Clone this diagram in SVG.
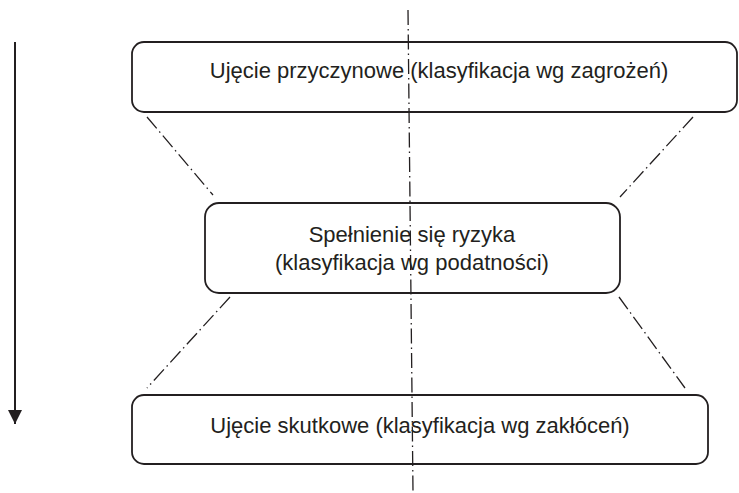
<svg xmlns="http://www.w3.org/2000/svg" width="739" height="493" viewBox="0 0 739 493">
<style>
.box{fill:#fff;stroke:#231f20;stroke-width:1.8}
.lbl{font-family:"Liberation Sans",Arial,sans-serif;font-size:22px;fill:#231f20;text-anchor:middle}
.dd{fill:none;stroke:#231f20;stroke-width:1.3;stroke-dasharray:15 4 1.5 4}
.arr{fill:none;stroke:#231f20;stroke-width:2}
</style>
<defs>
<marker id="ah" markerWidth="16" markerHeight="14" refX="14" refY="7" orient="auto" markerUnits="userSpaceOnUse">
<path d="M0,0 L14,7 L0,14 Z" fill="#231f20"/>
</marker>
</defs>
<g id="node-przyczynowe">
<rect class="box" x="132" y="42" width="605" height="70" rx="12"/>
<text class="lbl" x="439" y="78">Ujęcie przyczynowe (klasyfikacja wg zagrożeń)</text>
</g>
<g id="node-spelnienie">
<rect class="box" x="205" y="203" width="415" height="90" rx="14"/>
<text class="lbl" x="412" y="242">Spełnienie się ryzyka</text>
<text class="lbl" x="412" y="270">(klasyfikacja wg podatności)</text>
</g>
<g id="node-skutkowe">
<rect class="box" x="132" y="395" width="576" height="69" rx="12"/>
<text class="lbl" x="420" y="433">Ujęcie skutkowe (klasyfikacja wg zakłóceń)</text>
</g>
<g id="connectors">
<line class="dd" x1="408" y1="10" x2="413" y2="492"/>
<line class="dd" x1="147" y1="117" x2="213" y2="195"/>
<line class="dd" x1="693" y1="117" x2="620" y2="197"/>
<line class="dd" x1="230" y1="297" x2="147" y2="388"/>
<line class="dd" x1="619" y1="297" x2="685" y2="388"/>
<line class="arr" x1="15" y1="42" x2="15" y2="424" marker-end="url(#ah)"/>
</g>
</svg>
